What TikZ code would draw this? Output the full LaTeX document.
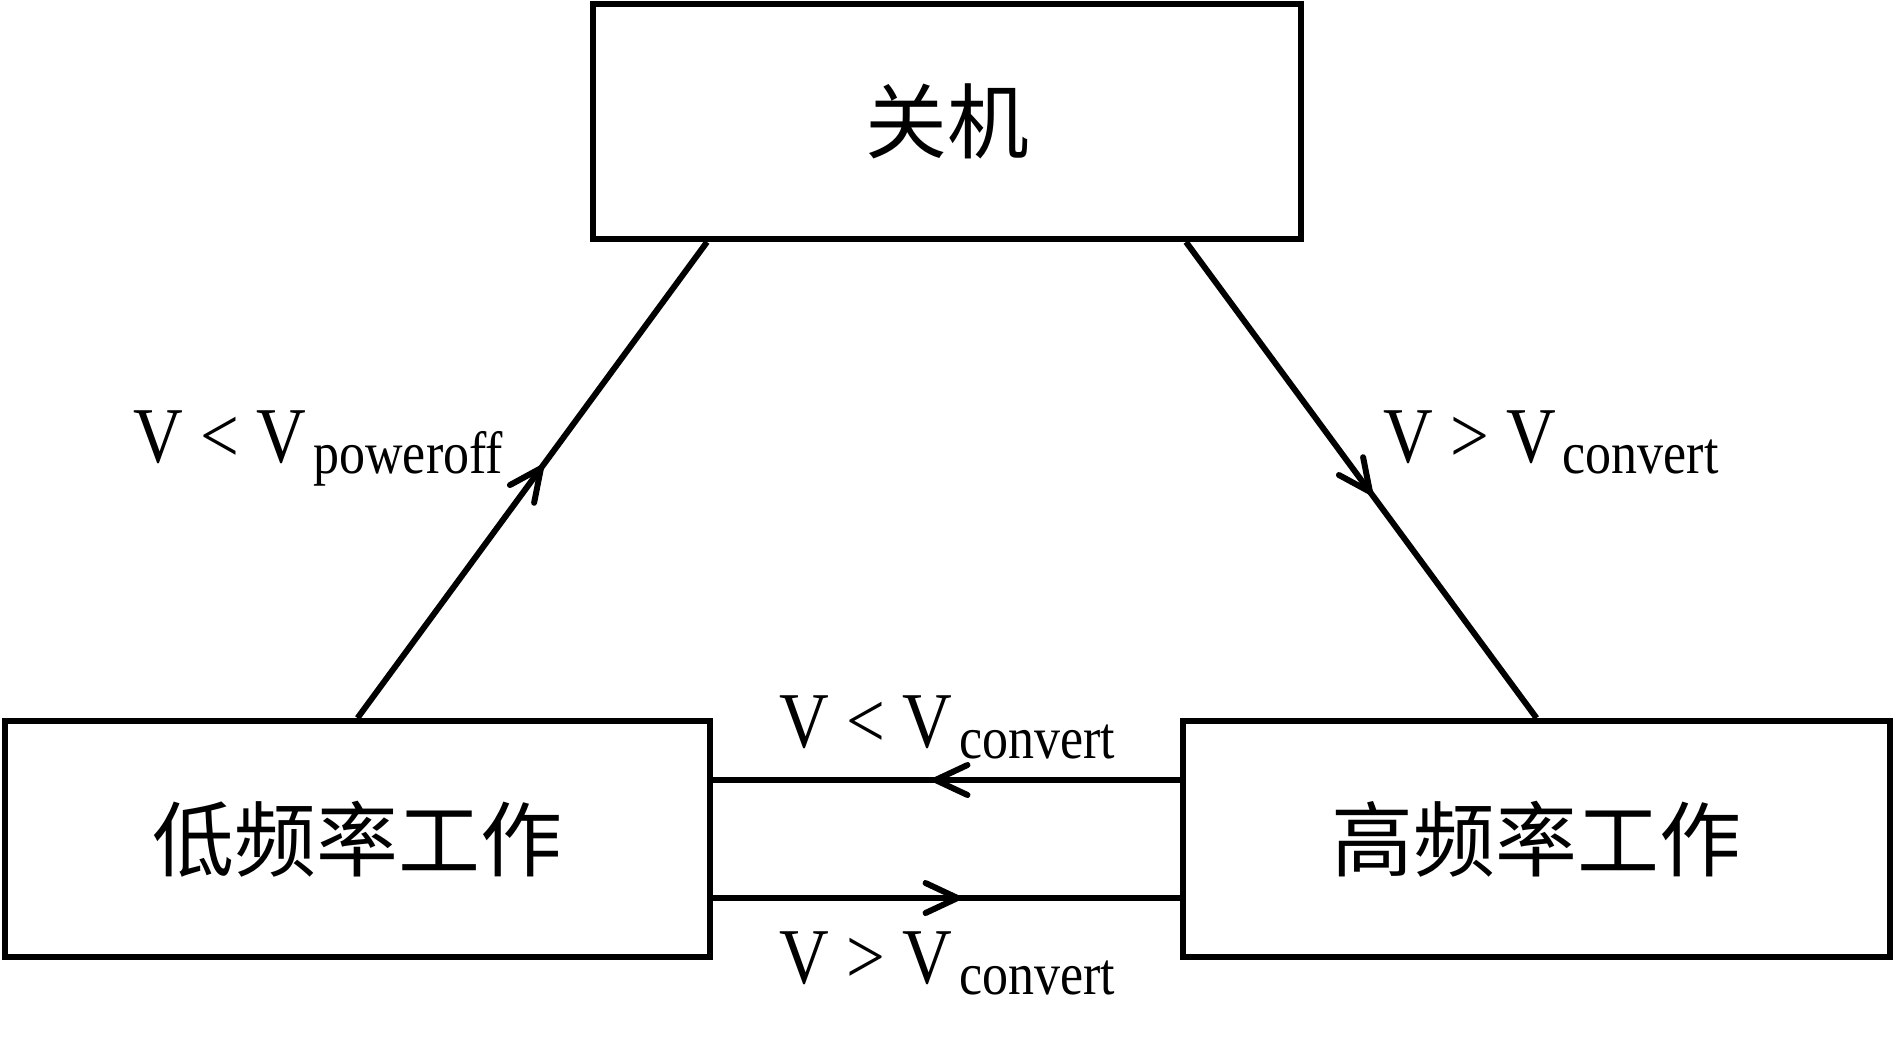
\documentclass[tikz,border=0pt]{standalone}
\usepackage{fontspec}
\setmainfont{Liberation Serif}
\newfontfamily\cjk{Noto Sans CJK SC}
\usepackage{tikz}
\usetikzlibrary{arrows.meta, decorations.markings}

\newcommand{\vcond}[2]{\scalebox{0.87}[1]{V #1 V\kern0.08cm\raisebox{-0.11cm}{\fontsize{17}{17}\selectfont #2}}}

\tikzset{
    statebox/.style={draw, line width=1.7pt, inner sep=0pt, font=\cjk\fontsize{23.3}{23.3}\selectfont},
    midarrow/.style={line width=1.7pt, postaction={decorate}, decoration={markings, mark=at position 0.53 with {\arrow{Straight Barb[length=3.2mm, width=3mm, round]}}}},
    cond/.style={anchor=base, inner sep=0pt, font=\fontsize{22.5}{22.5}\selectfont}
}

\begin{document}
\begin{tikzpicture}
        \useasboundingbox (0, 0) rectangle (18.94, 10.38);
        \node[statebox, minimum width=7.08cm, minimum height=2.35cm] (off) at (9.47, 9.165) {关机};
        \node[statebox, minimum width=7.05cm, minimum height=2.36cm] (low) at (3.575, 1.99) {低频率工作};
        \node[statebox, minimum width=7.07cm, minimum height=2.36cm] (high) at (15.365, 1.99) {高频率工作};

        \draw[midarrow] (low.north) -- ([xshift=1.17cm]off.south west);
        \draw[midarrow] ([xshift=-1.18cm]off.south east) -- (high.north);
        \draw[midarrow] ([yshift=0.59cm]high.west) -- ([yshift=0.59cm]low.east);
        \draw[midarrow] ([yshift=-0.59cm]low.east) -- ([yshift=-0.59cm]high.west);

        \node[cond] (offcond) at (3.185, 5.76) {\vcond{<}{poweroff}};
        \node[cond] (highcond) at (15.51, 5.76) {\vcond{>}{convert}};
        \node[cond] (downcond) at (9.475, 2.91) {\vcond{<}{convert}};
        \node[cond] (upcond) at (9.475, 0.55) {\vcond{>}{convert}};
    \end{tikzpicture}
\end{document}
